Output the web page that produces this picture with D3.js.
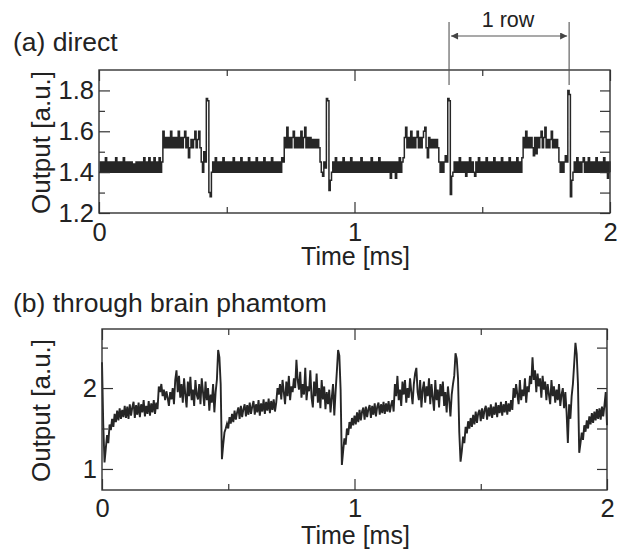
<!DOCTYPE html>
<html>
<head>
<meta charset="utf-8">
<script src="https://cdn.jsdelivr.net/npm/d3@7"></script>
<style>
  html, body { margin: 0; padding: 0; background: #fff; }
  svg { display: block; }
  text { font-family: "Liberation Sans", Arial, Helvetica, sans-serif; fill: #222; }
</style>
</head>
<body>
<svg id="chart" width="621" height="550"></svg>
<script>
// Sample spacing of both recordings (ms)
const sampleStep = 0.005;

// (a) direct output, one sample every 0.005 ms from 0 to 2 ms
const directValues = [
  1.40,1.45,1.40,1.45,1.40,1.47,1.40,1.45,1.40,1.45,1.40,1.45,1.40,1.47,1.40,1.45,1.40,1.45,1.40,1.47,
  1.40,1.45,1.40,1.45,1.40,1.45,1.40,1.44,1.40,1.45,1.40,1.45,1.40,1.45,1.40,1.47,1.40,1.45,1.40,1.47,
  1.40,1.45,1.40,1.47,1.40,1.45,1.40,1.47,1.40,1.45,1.60,1.52,1.57,1.52,1.57,1.52,1.60,1.52,1.57,1.52,
  1.57,1.52,1.60,1.52,1.57,1.52,1.57,1.60,1.52,1.57,1.47,1.52,1.56,1.52,1.56,1.60,1.52,1.56,1.60,1.52,
  1.45,1.40,1.50,1.45,1.76,1.75,1.30,1.28,1.40,1.45,1.40,1.47,1.40,1.45,1.40,1.45,1.40,1.47,1.40,1.45,
  1.40,1.45,1.40,1.45,1.40,1.47,1.40,1.45,1.40,1.45,1.40,1.47,1.40,1.45,1.40,1.45,1.40,1.47,1.40,1.45,
  1.40,1.45,1.40,1.47,1.40,1.45,1.40,1.45,1.40,1.47,1.40,1.45,1.40,1.45,1.40,1.47,1.40,1.45,1.40,1.45,
  1.40,1.45,1.40,1.47,1.45,1.57,1.52,1.62,1.52,1.57,1.52,1.57,1.60,1.52,1.57,1.52,1.57,1.52,1.60,1.52,
  1.57,1.62,1.52,1.57,1.52,1.57,1.52,1.56,1.52,1.56,1.52,1.56,1.52,1.45,1.40,1.38,1.45,1.42,1.76,1.75,
  1.31,1.36,1.40,1.45,1.40,1.47,1.40,1.45,1.40,1.45,1.40,1.47,1.40,1.45,1.40,1.45,1.40,1.47,1.40,1.45,
  1.40,1.45,1.40,1.45,1.40,1.47,1.40,1.45,1.40,1.45,1.40,1.45,1.40,1.47,1.40,1.45,1.40,1.45,1.40,1.47,
  1.40,1.45,1.40,1.45,1.40,1.45,1.40,1.45,1.37,1.45,1.40,1.45,1.37,1.45,1.40,1.47,1.40,1.45,1.47,1.57,
  1.62,1.52,1.57,1.52,1.60,1.52,1.57,1.52,1.57,1.60,1.52,1.57,1.52,1.57,1.60,1.62,1.52,1.47,1.57,1.52,
  1.56,1.52,1.56,1.52,1.56,1.52,1.45,1.40,1.45,1.40,1.45,1.48,1.45,1.76,1.75,1.29,1.38,1.40,1.45,1.40,
  1.45,1.40,1.47,1.40,1.45,1.40,1.45,1.38,1.45,1.40,1.47,1.40,1.45,1.40,1.38,1.45,1.40,1.47,1.40,1.45,
  1.40,1.45,1.40,1.47,1.40,1.45,1.40,1.45,1.40,1.47,1.40,1.45,1.40,1.45,1.40,1.47,1.40,1.45,1.40,1.45,
  1.40,1.47,1.40,1.45,1.40,1.45,1.40,1.47,1.40,1.45,1.40,1.47,1.57,1.52,1.60,1.52,1.57,1.52,1.57,1.52,
  1.48,1.57,1.49,1.57,1.52,1.57,1.60,1.52,1.57,1.62,1.52,1.56,1.52,1.56,1.60,1.52,1.56,1.52,1.56,1.52,
  1.45,1.40,1.45,1.40,1.45,1.48,1.45,1.80,1.78,1.28,1.36,1.40,1.45,1.40,1.47,1.40,1.45,1.40,1.45,1.47,
  1.40,1.45,1.40,1.47,1.40,1.45,1.40,1.45,1.40,1.47,1.40,1.45,1.40,1.45,1.40,1.47,1.40,1.45,1.37,1.45,
  1.40
];

// (b) output through the brain phantom, same sampling
const phantomValues = [
  2.32,1.55,1.08,1.25,1.42,1.32,1.55,1.48,1.62,1.52,1.68,1.58,1.72,1.60,1.75,1.62,1.73,1.64,1.78,1.63,
  1.77,1.62,1.80,1.66,1.76,1.83,1.63,1.79,1.67,1.82,1.64,1.80,1.70,1.85,1.65,1.78,1.68,1.84,1.66,1.81,
  1.70,1.85,1.68,1.82,1.74,2.02,1.95,2.05,1.90,1.98,1.85,1.96,1.88,1.78,1.95,1.86,2.00,1.80,2.10,2.22,
  1.95,2.15,1.88,2.05,1.82,2.12,1.92,1.76,2.08,1.90,2.14,1.85,1.98,1.78,2.10,1.92,1.86,2.05,1.80,2.12,
  1.95,1.78,2.08,1.85,2.00,1.72,1.92,1.82,2.05,1.70,1.95,2.10,2.47,2.38,2.05,1.12,1.30,1.45,1.50,1.56,
  1.50,1.64,1.56,1.68,1.58,1.72,1.61,1.70,1.76,1.62,1.78,1.64,1.74,1.80,1.65,1.79,1.67,1.82,1.68,1.77,
  1.84,1.67,1.80,1.70,1.85,1.66,1.81,1.71,1.86,1.68,1.83,1.72,1.87,1.69,1.84,1.73,1.86,1.71,1.82,2.00,
  1.92,2.05,1.86,2.10,1.95,1.80,2.08,1.90,2.15,1.85,2.02,1.95,2.12,2.00,2.35,2.10,1.98,2.20,1.88,2.05,
  1.92,2.25,1.85,2.02,1.96,2.22,1.88,1.76,2.08,1.90,2.18,1.82,2.00,1.75,2.10,1.86,2.02,1.74,1.95,1.80,
  1.98,1.70,1.88,2.05,1.66,1.95,2.20,2.47,2.40,1.98,1.05,1.22,1.38,1.30,1.50,1.42,1.58,1.50,1.63,1.54,
  1.66,1.55,1.70,1.58,1.73,1.60,1.71,1.76,1.61,1.77,1.64,1.74,1.79,1.63,1.78,1.67,1.81,1.65,1.77,1.82,
  1.67,1.80,1.69,1.83,1.68,1.81,1.71,1.84,1.70,1.79,1.85,1.71,2.05,1.90,2.15,1.85,1.98,1.78,2.08,1.92,
  2.10,1.82,2.00,1.88,2.12,1.95,1.80,2.05,2.18,2.25,1.95,1.85,2.10,1.76,1.98,2.08,1.82,2.02,1.90,2.12,
  1.80,2.05,1.88,1.72,2.10,1.85,1.98,1.76,2.05,1.90,2.08,1.78,1.95,1.70,2.02,1.85,1.65,1.92,2.05,2.15,
  2.43,2.36,2.12,1.45,1.09,1.22,1.40,1.32,1.52,1.44,1.59,1.50,1.63,1.52,1.67,1.55,1.71,1.57,1.69,1.73,
  1.59,1.75,1.62,1.73,1.78,1.61,1.76,1.65,1.80,1.63,1.77,1.67,1.82,1.64,1.79,1.69,1.83,1.66,1.80,1.70,
  1.84,1.67,1.81,1.71,1.85,1.73,2.00,1.88,2.05,1.92,1.80,2.10,1.85,1.98,1.90,2.12,1.82,2.02,1.95,2.15,
  2.05,2.38,2.10,2.22,1.95,2.18,2.02,2.12,1.88,2.15,1.98,2.08,1.85,2.05,1.92,1.80,2.10,1.90,2.02,1.82,
  1.98,1.85,2.05,1.78,1.92,2.00,1.75,1.95,1.70,1.32,1.80,1.62,1.90,2.05,2.30,2.56,2.42,2.05,1.20,1.32,
  1.45,1.36,1.54,1.46,1.60,1.50,1.65,1.55,1.69,1.57,1.71,1.60,1.74,1.62,1.75,1.61,1.77,1.65,1.79,1.95,
  1.54
];

// Tick values
const timeMajorTicks = [0, 1, 2];
const timeMinorTicks = [0.5, 1.5];
const directMajorTicks = [1.2, 1.4, 1.6, 1.8];
const directMinorTicks = [1.3, 1.5, 1.7];
const phantomMajorTicks = [1, 2];
const phantomMinorTicks = [1.5, 2.5];

// Start and end of one row (ms), marked above panel (a)
const rowMarks = [1.37, 1.84];

const svg = d3.select("#chart");
const ink = "#262626";
const frameInk = "#333";

function drawPanel(cfg) {
  const x = d3.scaleLinear().domain([0, 2]).range([cfg.left, cfg.right]);
  const y = d3.scaleLinear().domain(cfg.yDomain).range([cfg.bottom, cfg.top]);
  const g = svg.append("g");

  const series = cfg.values.map((v, i) => ({ t: i * sampleStep, v }));
  g.append("path")
    .datum(series)
    .attr("fill", "none")
    .attr("stroke", ink)
    .attr("stroke-width", cfg.lineWidth)
    .attr("d", d3.line().curve(cfg.curve).x(d => x(d.t)).y(d => y(d.v)));

  const styleAxis = sel => {
    sel.select(".domain").remove();
    sel.selectAll(".tick line").attr("stroke", frameInk).attr("stroke-width", 1.2);
    sel.selectAll(".tick text").style("font-size", cfg.tickFont + "px").attr("fill", "#222");
  };

  // bottom: labelled major ticks, short minor ticks
  g.append("g").attr("transform", `translate(0,${cfg.bottom})`)
    .call(d3.axisBottom(x).tickValues(timeMajorTicks).tickSizeInner(-11).tickSizeOuter(0)
      .tickPadding(cfg.xPad).tickFormat(d3.format("d")))
    .call(styleAxis);
  g.append("g").attr("transform", `translate(0,${cfg.bottom})`)
    .call(d3.axisBottom(x).tickValues(timeMinorTicks).tickSizeInner(-6).tickSizeOuter(0).tickFormat(""))
    .call(styleAxis);
  // top mirror
  g.append("g").attr("transform", `translate(0,${cfg.top})`)
    .call(d3.axisTop(x).tickValues(timeMajorTicks).tickSizeInner(-11).tickSizeOuter(0).tickFormat(""))
    .call(styleAxis);
  g.append("g").attr("transform", `translate(0,${cfg.top})`)
    .call(d3.axisTop(x).tickValues(timeMinorTicks).tickSizeInner(-6).tickSizeOuter(0).tickFormat(""))
    .call(styleAxis);
  // left
  g.append("g").attr("transform", `translate(${cfg.left},0)`)
    .call(d3.axisLeft(y).tickValues(cfg.yMajor).tickSizeInner(-11).tickSizeOuter(0)
      .tickPadding(5).tickFormat(d3.format(cfg.yFormat)))
    .call(styleAxis);
  g.append("g").attr("transform", `translate(${cfg.left},0)`)
    .call(d3.axisLeft(y).tickValues(cfg.yMinor).tickSizeInner(-6).tickSizeOuter(0).tickFormat(""))
    .call(styleAxis);
  // right mirror
  g.append("g").attr("transform", `translate(${cfg.right},0)`)
    .call(d3.axisRight(y).tickValues(cfg.yMajor.concat(cfg.yMinor)).tickSizeInner(-10).tickSizeOuter(0).tickFormat(""))
    .call(styleAxis);

  // frame
  g.append("rect")
    .attr("x", cfg.left).attr("y", cfg.top)
    .attr("width", cfg.right - cfg.left).attr("height", cfg.bottom - cfg.top)
    .attr("fill", "none").attr("stroke", frameInk).attr("stroke-width", 1.4);

  // titles and axis names
  svg.append("text").attr("x", 13).attr("y", cfg.titleY)
    .style("font-size", "26.5px").text(cfg.title);
  svg.append("text").attr("x", (cfg.left + cfg.right) / 2 + 1).attr("y", cfg.xLabelY)
    .attr("text-anchor", "middle").style("font-size", "25px").text("Time [ms]");
  svg.append("text")
    .attr("transform", `translate(50,${(cfg.top + cfg.bottom) / 2 + 1}) rotate(-90)`)
    .attr("text-anchor", "middle").style("font-size", "26px").text("Output [a.u.]");

  return { x, y };
}

const panelA = drawPanel({
  values: directValues, left: 99, right: 610, top: 70, bottom: 213,
  yDomain: [1.2, 1.9], yMajor: directMajorTicks, yMinor: directMinorTicks, yFormat: ".1f",
  tickFont: 25.5, xPad: 10, title: "(a) direct", titleY: 51, xLabelY: 265,
  curve: d3.curveStepAfter, lineWidth: 1.5
});

drawPanel({
  values: phantomValues, left: 102, right: 607, top: 329, bottom: 490,
  yDomain: [0.74, 2.73], yMajor: phantomMajorTicks, yMinor: phantomMinorTicks, yFormat: "d",
  tickFont: 25.5, xPad: 9, title: "(b) through brain phamtom", titleY: 312, xLabelY: 544,
  curve: d3.curveLinear, lineWidth: 1.9
});

// "1 row" span marker above panel (a)
const defs = svg.append("defs");
defs.append("marker").attr("id", "arrowHead")
  .attr("viewBox", "0 0 10 10").attr("refX", 10).attr("refY", 5)
  .attr("markerWidth", 9).attr("markerHeight", 7).attr("markerUnits", "userSpaceOnUse")
  .attr("orient", "auto-start-reverse")
  .append("path").attr("d", "M0,0 L10,5 L0,10 Z").attr("fill", "#444");

const rowG = svg.append("g");
rowMarks.forEach(t => {
  rowG.append("line")
    .attr("x1", panelA.x(t)).attr("x2", panelA.x(t))
    .attr("y1", 22).attr("y2", 85)
    .attr("stroke", "#555").attr("stroke-width", 1.1);
});
rowG.append("line")
  .attr("x1", panelA.x(rowMarks[0]) + 2).attr("x2", panelA.x(rowMarks[1]) - 2)
  .attr("y1", 36).attr("y2", 36)
  .attr("stroke", "#555").attr("stroke-width", 1.1)
  .attr("marker-start", "url(#arrowHead)").attr("marker-end", "url(#arrowHead)");
rowG.append("text")
  .attr("x", (panelA.x(rowMarks[0]) + panelA.x(rowMarks[1])) / 2 - 1).attr("y", 27)
  .attr("text-anchor", "middle").style("font-size", "21.5px").text("1 row");
</script>
</body>
</html>
